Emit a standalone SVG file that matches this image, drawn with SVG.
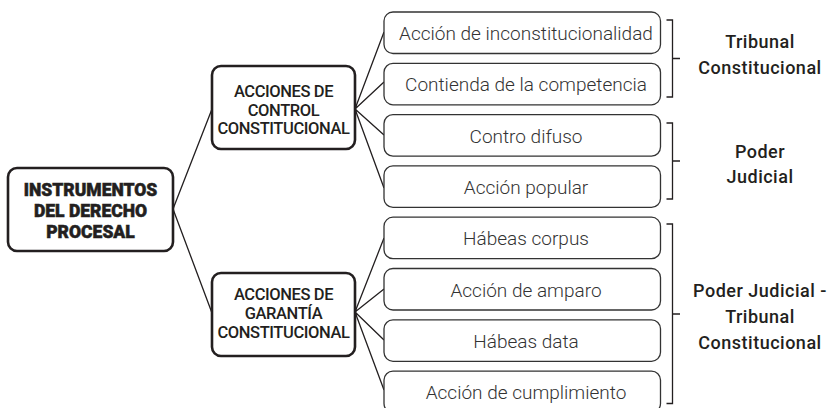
<svg xmlns="http://www.w3.org/2000/svg" width="830" height="408" viewBox="0 0 830 408">
<style>
.main{fill:#fff;stroke:#231f20;stroke-width:2.6}
.leaf{fill:#fff;stroke:#333;stroke-width:1.3}
.con{fill:none;stroke:#231f20;stroke-width:1.3}
.br{fill:none;stroke:#231f20;stroke-width:1.3}
.t0{font-family:Roboto,"Liberation Sans",sans-serif;font-weight:900;font-size:17.5px;fill:#231f20;stroke:#231f20;stroke-width:0.5;text-anchor:middle}
.t1{font-family:Roboto,"Liberation Sans",sans-serif;font-weight:500;font-size:16.5px;letter-spacing:-0.4px;fill:#231f20;text-anchor:middle}
.t2{font-family:Roboto,"Liberation Sans",sans-serif;font-weight:300;font-size:19px;fill:#333;text-anchor:middle}
.t3{font-family:Roboto,"Liberation Sans",sans-serif;font-weight:500;font-size:18px;letter-spacing:0.5px;fill:#231f20;text-anchor:middle}
</style>
<rect width="830" height="408" fill="#fff"/>
<g id="connectors">
<path class="con" d="M173 209 L212 109 M173 209 L212 313"/>
<path class="con" d="M355 109 L384 32 M355 109 L384 82 M355 109 L384 135 M355 109 L384 188"/>
<path class="con" d="M355 312 L384 238 M355 312 L384 289 M355 312 L384 340 M355 312 L384 390"/>
</g>
<g id="root">
<rect class="main" x="8" y="168" width="165" height="83" rx="9"/>
<text class="t0" x="90.5" y="196">INSTRUMENTOS</text>
<text class="t0" x="90.5" y="217">DEL DERECHO</text>
<text class="t0" x="90.5" y="238">PROCESAL</text>
</g>
<g id="control">
<rect class="main" x="212" y="66" width="143" height="83" rx="9"/>
<text class="t1" x="283.5" y="97">ACCIONES DE</text>
<text class="t1" x="283.5" y="115.5">CONTROL</text>
<text class="t1" x="283.5" y="134">CONSTITUCIONAL</text>
</g>
<g id="garantia">
<rect class="main" x="212" y="273" width="143" height="83" rx="9"/>
<text class="t1" x="283.5" y="300">ACCIONES DE</text>
<text class="t1" x="283.5" y="319">GARANTÍA</text>
<text class="t1" x="283.5" y="338">CONSTITUCIONAL</text>
</g>
<g id="leaf1"><rect class="leaf" x="384" y="12" width="276.5" height="41.5" rx="9"/><text class="t2" x="526" y="40">Acción de inconstitucionalidad</text></g>
<g id="leaf2"><rect class="leaf" x="384" y="63.3" width="276.5" height="41.5" rx="9"/><text class="t2" x="526" y="91.3">Contienda de la competencia</text></g>
<g id="leaf3"><rect class="leaf" x="384" y="114.6" width="276.5" height="41.5" rx="9"/><text class="t2" x="526" y="142.6">Contro difuso</text></g>
<g id="leaf4"><rect class="leaf" x="384" y="165.9" width="276.5" height="41.5" rx="9"/><text class="t2" x="526" y="193.9">Acción popular</text></g>
<g id="leaf5"><rect class="leaf" x="384" y="217.2" width="276.5" height="41.5" rx="9"/><text class="t2" x="526" y="245.2">Hábeas corpus</text></g>
<g id="leaf6"><rect class="leaf" x="384" y="268.5" width="276.5" height="41.5" rx="9"/><text class="t2" x="526" y="296.5">Acción de amparo</text></g>
<g id="leaf7"><rect class="leaf" x="384" y="319.8" width="276.5" height="41.5" rx="9"/><text class="t2" x="526" y="347.8">Hábeas data</text></g>
<g id="leaf8"><rect class="leaf" x="384" y="371.1" width="276.5" height="41.5" rx="9"/><text class="t2" x="526" y="399.1">Acción de cumplimiento</text></g>
<g id="brackets">
<path class="br" d="M666.5 20 H672.5 V97 H666.5 M672.5 58.5 H680"/>
<path class="br" d="M666.5 123 H672.5 V199 H666.5 M672.5 161 H680"/>
<path class="br" d="M666.5 224 H672.5 V403.5 H666.5 M672.5 314 H680"/>
</g>
<g id="label1"><text class="t3" x="760" y="48">Tribunal</text><text class="t3" x="760" y="74">Constitucional</text></g>
<g id="label2"><text class="t3" x="760" y="158">Poder</text><text class="t3" x="760" y="183">Judicial</text></g>
<g id="label3"><text class="t3" x="760" y="297">Poder Judicial -</text><text class="t3" x="760" y="323">Tribunal</text><text class="t3" x="760" y="349">Constitucional</text></g>
</svg>
